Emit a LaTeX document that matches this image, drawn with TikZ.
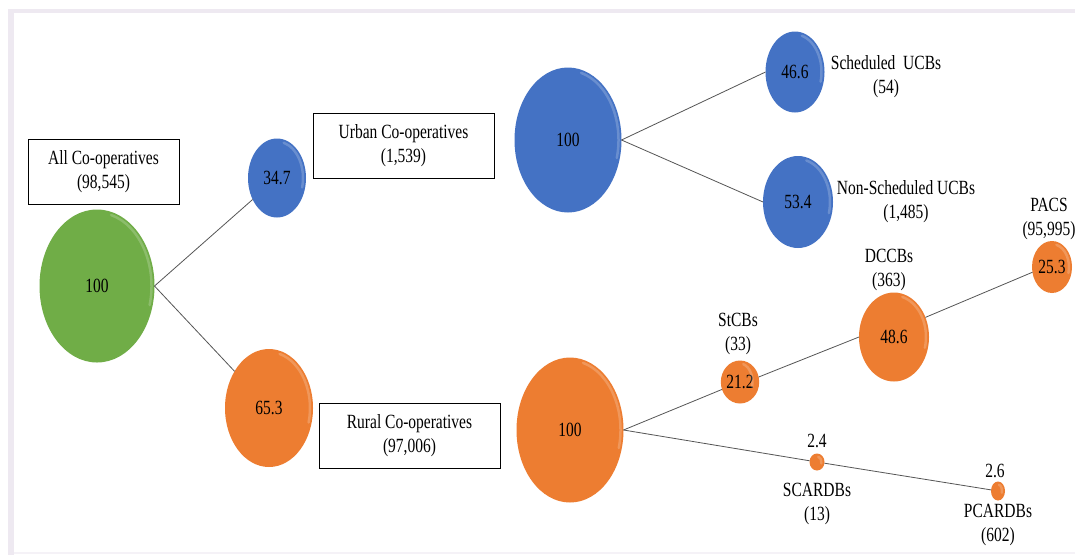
\documentclass[tikz,border=0pt]{standalone}
\usepackage{fontspec}
\setmainfont{Liberation Serif}
\usepackage{graphicx}
\usetikzlibrary{shapes.geometric}
\definecolor{cgreen}{HTML}{70AD47}
\definecolor{cblue}{HTML}{4472C4}
\definecolor{corange}{HTML}{ED7D31}
\definecolor{framec}{HTML}{EEE9F1}
\definecolor{lnk}{HTML}{555555}
\newcommand\vs[1]{\scalebox{1}[1.3]{#1}}
\newcommand\twol[2]{\vs{\begin{tabular}{@{}c@{}}#1\\#2\end{tabular}}}
\newcommand\ball[7]{%
  \node[ballnode, fill=#6, minimum width=#4pt, minimum height=#5pt] (#1) at (#2,#3) {\vs{#7}};
  \pgfmathsetmacro\bra{#4/2-3}%
  \pgfmathsetmacro\brb{#5/2-3}%
  \draw[hl] (#2,#3) ++(-75:{\bra} and {\brb}) arc[start angle=-75, end angle=15, x radius=\bra, y radius=\brb];
}
\begin{document}
\begin{tikzpicture}[x=1pt,y=-1pt,
  every node/.style={font=\fontsize{15.5}{18.5}\selectfont, inner sep=0pt},
  ballnode/.style={ellipse, inner sep=0pt, outer sep=0pt},
  labelbox/.style={draw=black, line width=1pt, rectangle, fill=white},
  link/.style={draw=lnk, line width=0.8pt},
  hl/.style={white, opacity=0.2, line width=2.5pt, line cap=round}]
\useasboundingbox (0,0) rectangle (1075,555);
\fill[white] (0,0) rectangle (1075,555);
\fill[framec] (8,9) rectangle (1075,13);
\fill[framec] (8,9) rectangle (14,555);
\fill[framec!60!white] (14,552) rectangle (1075,554);

\ball{all}{97}{286}{115}{153}{cgreen}{100}
\ball{urb}{277}{178}{58}{79}{cblue}{34.7}
\ball{rur}{269}{408}{88}{118}{corange}{65.3}
\ball{u100}{568}{140}{107}{145}{cblue}{100}
\ball{r100}{570}{430}{107}{145}{corange}{100}
\ball{sch}{795}{72}{59}{81}{cblue}{46.6}
\ball{nsch}{798}{202}{70}{92}{cblue}{53.4}
\ball{stcb}{740}{382}{31}{43}{corange}{21.2}
\ball{dccb}{894}{337}{70}{89}{corange}{48.6}
\ball{pacs}{1052}{267}{40}{52}{corange}{25.3}
\ball{scard}{817}{462}{15}{17}{corange}{}
\ball{pcard}{998}{491}{14}{19}{corange}{}

\draw[link] (all.east) -- (urb);
\draw[link] (all.east) -- (rur);
\draw[link] (u100.east) -- (sch.west);
\draw[link] (u100.east) -- (nsch.west);
\draw[link] (r100.east) -- (stcb);
\draw[link] (stcb.15) -- (dccb.west);
\draw[link] (dccb.32) -- (pacs.195);
\draw[link] (r100.east) -- (scard);
\draw[link] (scard) -- (pcard);

\node[labelbox, minimum width=151pt, minimum height=65pt] (allbox) at (103.5,171.5) {\twol{All Co-operatives}{(98,545)}};
\node[labelbox, minimum width=181pt, minimum height=65pt] (urbbox) at (403.5,145.5) {\twol{Urban Co-operatives}{(1,539)}};
\node[labelbox, minimum width=181pt, minimum height=65pt] (rurbox) at (409.5,435.5) {\twol{Rural Co-operatives}{(97,006)}};

\node (schl) at (886,77) {\twol{Scheduled\ \ UCBs}{(54)}};
\node (nschl) at (906,202) {\twol{Non-Scheduled UCBs}{(1,485)}};
\node (pacsl) at (1049,219) {\twol{PACS}{(95,995)}};
\node (dccbl) at (889,270) {\twol{DCCBs}{(363)}};
\node (stcbl) at (738,334) {\twol{StCBs}{(33)}};
\node[anchor=base] (scardv) at (817,447) {\vs{2.4}};
\node (scardl) at (817,504) {\twol{SCARDBs}{(13)}};
\node[anchor=base] (pcardv) at (995,477) {\vs{2.6}};
\node (pcardl) at (998,525) {\twol{PCARDBs}{(602)}};
\end{tikzpicture}
\end{document}
